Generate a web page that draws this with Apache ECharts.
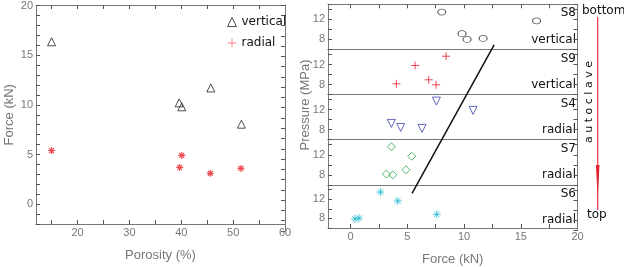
<!DOCTYPE html>
<html>
<head>
<meta charset="utf-8">
<script src="https://cdn.jsdelivr.net/npm/echarts@6/dist/echarts.min.js"></script>
<style>
  html, body { margin: 0; padding: 0; background: #fff; }
  #chart { width: 624px; height: 267px; }
</style>
</head>
<body>
<div id="chart"></div>
<script>
// 左图: 孔隙率 - 力
var porosityVertical = [[15, 16.35], [39.6, 10.2], [40.1, 9.8], [45.7, 11.7], [51.6, 8.05]];
var porosityRadial = [[15, 5.4], [39.7, 3.7], [40.1, 4.9], [45.6, 3.1], [51.5, 3.6]];
var leftXLabels = [20, 30, 40, 50, 60];
var leftXTicks = [15, 20, 25, 30, 35, 40, 45, 50, 55];
var leftYLabels = [0, 5, 10, 15, 20];

// 右图: 力 - 压力 (5 个样品)
var panelNames = ['S8', 'S9', 'S4', 'S7', 'S6'];
var panelDirs = ['vertical', 'vertical', 'radial', 'radial', 'radial'];
var s8 = [[8.03, 13.45], [9.82, 9.15], [10.26, 8.0], [11.68, 8.2], [16.39, 11.7]];
var s9 = [[8.41, 13.65], [5.68, 11.8], [6.88, 8.95], [7.53, 7.95], [4.03, 8.15]];
var s4 = [[7.56, 13.7], [10.79, 11.85], [3.59, 9.25], [4.41, 8.45], [6.29, 8.25]];
var s7 = [[3.59, 13.6], [5.38, 11.7], [4.88, 9.0], [3.15, 8.15], [3.71, 8.0]];
var s6 = [[2.62, 13.5], [4.15, 11.65], [7.59, 8.85], [0.38, 7.9], [0.73, 8.05]];
var rightXLabels = [0, 5, 10, 15, 20];
var rightXTicks = [0, 2.5, 5, 7.5, 10, 12.5, 15, 17.5];
var rightYLabels = [8, 12];
// 跨面板的黑色趋势线 (y 为面板序号坐标 0..5)
var trendLine = [[5.41, 0.81], [12.65, 4.1]];

var tickFont = 'Liberation Sans, Arial, sans-serif';
var textFont = 'DejaVu Sans, sans-serif';
var axisColor = '#777';

var grids = [];
var xAxes = [];
var yAxes = [];
var series = [];
var graphics = [];

function makeAxis(gi, position, range, tickVals, tickStep, labelVals) {
    var ax = {
        type: 'value', gridIndex: gi, position: position,
        min: range[0], max: range[1],
        axisLine: { show: true, onZero: false, lineStyle: { color: axisColor, width: 1 } },
        axisTick: { show: false },
        axisLabel: { show: false },
        splitLine: { show: false }
    };
    if (tickStep) {
        ax.interval = tickStep;
        ax.axisTick = { show: true, inside: true, length: 4, lineStyle: { color: '#555' } };
    } else if (tickVals && tickVals.length) {
        ax.axisTick = { show: true, inside: true, length: 4, customValues: tickVals, lineStyle: { color: '#555' } };
    }
    if (labelVals && labelVals.length) {
        ax.axisLabel = { show: true, customValues: labelVals, margin: 3, color: '#777', fontFamily: tickFont, fontSize: 11 };
    } else {
        ax.axisLabel = { show: false };
    }
    return ax;
}

// 一个框: 两个 grid (下/左 与 上/右), 每边一根轴
function addBox(box, xr, yr, xTicks, yStep, xLab, yLab, xTicksTop, xTicksBottom) {
    var gi = grids.length;
    grids.push({ left: box[0], top: box[1], width: box[2], height: box[3], containLabel: false });
    xAxes.push(makeAxis(gi, 'bottom', xr, xTicksBottom ? xTicks : [], 0, xLab));
    yAxes.push(makeAxis(gi, 'left', yr, [], yStep, yLab));
    var first = { grid: gi, x: xAxes.length - 1, y: yAxes.length - 1 };
    grids.push({ left: box[0], top: box[1], width: box[2], height: box[3], containLabel: false });
    xAxes.push(makeAxis(gi + 1, 'top', xr, xTicksTop ? xTicks : [], 0, []));
    yAxes.push(makeAxis(gi + 1, 'right', yr, [], yStep, []));
    return first;
}

// 星号符号
var asterisk = 'path://M5,0L5,10M0,5L10,5M1.5,1.5L8.5,8.5M1.5,8.5L8.5,1.5';
var plus = 'path://M5,0L5,10M0,5L10,5';

// 左图
var L = addBox([36, 5, 249, 226], [12, 60], [-2, 20], leftXTicks, 1, leftXLabels, leftYLabels, true, true);
xAxes[L.x].name = 'Porosity (%)';
xAxes[L.x].nameLocation = 'middle';
xAxes[L.x].nameGap = 25;
xAxes[L.x].nameTextStyle = { color: '#777', fontFamily: tickFont, fontSize: 13 };
yAxes[L.y].name = 'Force (kN)';
yAxes[L.y].nameLocation = 'middle';
yAxes[L.y].nameGap = 20;
yAxes[L.y].nameTextStyle = { color: '#777', fontFamily: tickFont, fontSize: 13 };

series.push({
    name: 'vertical', type: 'scatter', xAxisIndex: L.x, yAxisIndex: L.y,
    data: porosityVertical, symbol: 'triangle', symbolSize: 8,
    itemStyle: { color: 'none', borderColor: '#222', borderWidth: 1 }
});
series.push({
    name: 'radial', type: 'scatter', xAxisIndex: L.x, yAxisIndex: L.y,
    data: porosityRadial, symbol: asterisk, symbolSize: 7,
    itemStyle: { color: 'none', borderColor: '#e8202a', borderWidth: 1.2 }
});

// 右图: 五个面板
var panelTop = 4.3, panelH = 45.14, rLeft = 328, rWidth = 249.5;
var panelData = [s8, s9, s4, s7, s6];
var panelStyles = [
    { symbol: 'circle', size: [8, 6], color: '#333', rotate: 0 },
    { symbol: plus, size: 8, color: '#e8202a', rotate: 0 },
    { symbol: 'triangle', size: 8, color: '#3a44b0', rotate: 180 },
    { symbol: 'diamond', size: 8, color: '#2aa84a', rotate: 0 },
    { symbol: asterisk, size: 8, color: '#22b8d0', rotate: 0 }
];
for (var i = 0; i < 5; i++) {
    var pTop = panelTop + i * panelH;
    var last = (i == 4);
    var P = addBox([rLeft, pTop, rWidth, panelH], [-2, 20], [6, 15],
        rightXTicks, 2, last ? rightXLabels : [], rightYLabels, i == 0, last);
    if (last) {
        xAxes[P.x].name = 'Force (kN)';
        xAxes[P.x].nameLocation = 'middle';
        xAxes[P.x].nameGap = 25;
        xAxes[P.x].nameTextStyle = { color: '#777', fontFamily: tickFont, fontSize: 13 };
    }
    var st = panelStyles[i];
    series.push({
        name: panelNames[i], type: 'scatter', xAxisIndex: P.x, yAxisIndex: P.y,
        data: panelData[i], symbol: st.symbol, symbolSize: st.size, symbolRotate: st.rotate,
        itemStyle: { color: 'none', borderColor: st.color, borderWidth: 1 }
    });
    graphics.push({
        type: 'text', x: 576, y: pTop + 3,
        style: { text: panelNames[i], font: '12px ' + textFont, fill: '#111', textAlign: 'right' }
    });
    graphics.push({
        type: 'text', x: 576, y: pTop + panelH - 16,
        style: { text: panelDirs[i], font: '12px ' + textFont, fill: '#111', textAlign: 'right' }
    });
}

// 趋势线覆盖层
var ogi = grids.length;
grids.push({ left: rLeft, top: panelTop, width: rWidth, height: panelH * 5 });
xAxes.push({ type: 'value', gridIndex: ogi, min: -2, max: 20, show: false });
yAxes.push({ type: 'value', gridIndex: ogi, min: 0, max: 5, show: false });
series.push({
    name: 'trend', type: 'line', xAxisIndex: xAxes.length - 1, yAxisIndex: yAxes.length - 1,
    data: trendLine, symbol: 'none', lineStyle: { color: '#111', width: 1.5 }, silent: true
});

// 右侧 autoclave 标注
graphics.push({
    type: 'text', x: 582, y: 5,
    style: { text: 'bottom', font: '12px ' + textFont, fill: '#111' }
});
graphics.push({
    type: 'text', x: 587, y: 209,
    style: { text: 'top', font: '12px ' + textFont, fill: '#111' }
});
graphics.push({
    type: 'text', x: 589, y: 102, rotation: Math.PI / 2,
    style: { text: 'a u t o c l a v e', font: '11px ' + textFont, fill: '#111', textAlign: 'center', textVerticalAlign: 'middle' }
});
graphics.push({
    type: 'line', shape: { x1: 597.7, y1: 17, x2: 597.7, y2: 210 },
    style: { stroke: '#ee3344', lineWidth: 1.2 }
});
graphics.push({
    type: 'polygon', shape: { points: [[595.9, 165], [599.5, 165], [597.7, 198]] },
    style: { fill: '#e02030' }
});
graphics.push({
    type: 'text', x: 305, y: 105, rotation: Math.PI / 2,
    style: { text: 'Pressure (MPa)', font: '13px ' + tickFont, fill: '#777', textAlign: 'center', textVerticalAlign: 'middle' }
});

var option = {
    animation: false,
    backgroundColor: '#fff',
    grid: grids,
    xAxis: xAxes,
    yAxis: yAxes,
    legend: {
        data: [
            { name: 'vertical', icon: 'triangle', itemStyle: { borderWidth: 1 } },
            { name: 'radial', icon: plus, itemStyle: { borderColor: '#f07080', borderWidth: 1 } }
        ],
        orient: 'vertical', left: 220, top: 10,
        itemWidth: 9, itemHeight: 9, itemGap: 7,
        textStyle: { fontFamily: textFont, fontSize: 12, color: '#111' }
    },
    series: series,
    graphic: graphics
};

var chart = echarts.init(document.getElementById('chart'));
chart.setOption(option);
</script>
</body>
</html>
